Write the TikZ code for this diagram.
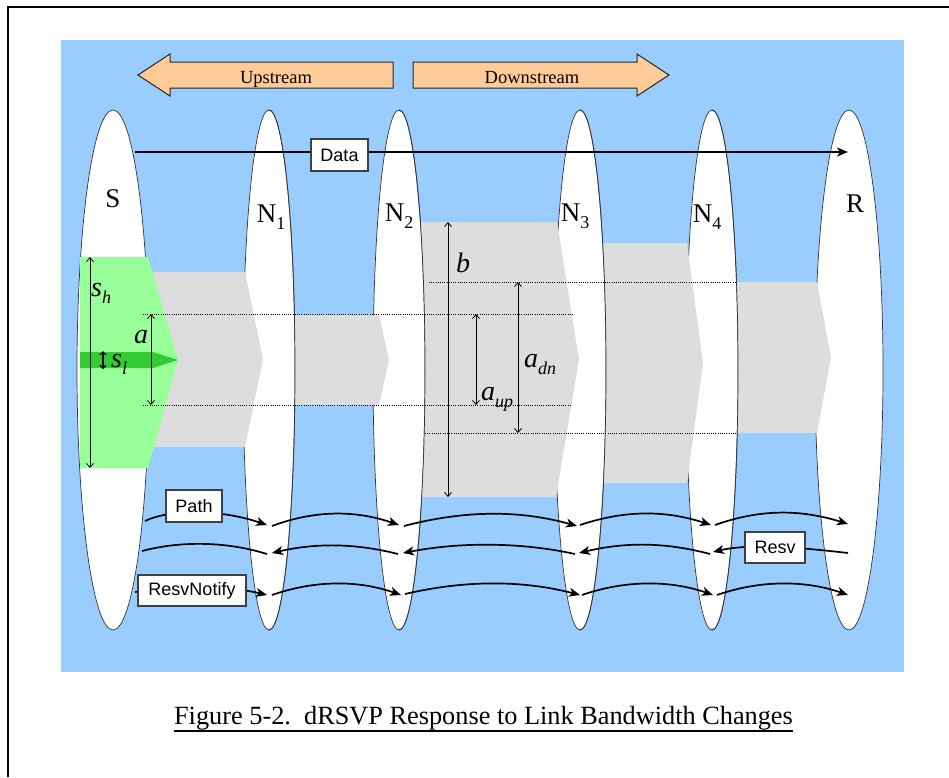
\documentclass[tikz,border=0pt]{standalone}
\usepackage{fontspec}
\setmainfont{Liberation Serif}
\setsansfont{Liberation Sans}
\usetikzlibrary{arrows.meta}
\definecolor{bgblue}{HTML}{99CCFF}
\definecolor{peach}{HTML}{FFCC99}
\definecolor{bwgray}{HTML}{DDDDDD}
\definecolor{lgreen}{HTML}{99FF99}
\definecolor{dgreen}{HTML}{33CC33}
\newcommand{\symlab}[2]{\textit{#1}\raisebox{-7pt}{\fontsize{18}{18}\selectfont\textit{#2}}}
\newcommand{\hoplabel}[2]{#1\raisebox{-7pt}{\fontsize{18}{18}\selectfont #2}}
\begin{document}
\begin{tikzpicture}[x=1pt,y=-1pt,
  hop/.style={draw=black!80, line width=0.7pt, fill=white},
  hopline/.style={draw=black!80, line width=0.7pt},
  bwseg/.style={fill=bwgray},
  dotline/.style={line width=0.8pt, dash pattern=on 1pt off 1.2pt},
  dim/.style={line width=0.8pt, {Straight Barb[length=4pt,width=7pt]}-{Straight Barb[length=4pt,width=7pt]}},
  dimsmall/.style={line width=1.2pt, {Straight Barb[length=3pt,width=6pt]}-{Straight Barb[length=3pt,width=6pt]}},
  msg/.style={line width=1.7pt, -{Stealth[length=11pt,width=9pt,inset=3pt]}},
  msgplain/.style={line width=1.7pt},
  msgbox/.style={draw=black!75, line width=1.2pt, fill=white, font=\sffamily\fontsize{18}{18}\selectfont, minimum height=31pt, inner sep=0pt},
  hoplab/.style={font=\fontsize{27}{27}\selectfont, anchor=base, inner sep=0pt},
  symlabel/.style={font=\fontsize{28}{28}\selectfont, anchor=base west, inner sep=0pt},
  dirarrow/.style={fill=peach, draw=black!85, line width=1pt},
  dirtext/.style={font=\fontsize{18.5}{18.5}\selectfont, anchor=base, inner sep=0pt}
]
% canvas
\fill[white] (0,0) rectangle (949,777);
\useasboundingbox (0,0) rectangle (949,777);
\coordinate (fbl) at (8,777);
\coordinate (ftl) at (8,7);
\coordinate (ftr) at (949,7);
\draw[line width=2.2pt] (fbl) -- (ftl) -- (ftr);
\fill[bgblue] (61,40) rectangle (904,672);

% direction arrows
\draw[dirarrow] (138,75) -- (170,54) -- (170,62) -- (393,62) -- (393,88) -- (170,88) -- (170,96) -- cycle;
\draw[dirarrow] (413,62) -- (637,62) -- (637,54) -- (669,75) -- (637,96) -- (637,88) -- (413,88) -- cycle;
\node[dirtext] (up) at (276,83) {Upstream};
\node[dirtext] (dn) at (532,83) {Downstream};

% hops
\draw[hop] (113,370) ellipse [x radius=36pt, y radius=260pt];
\draw[hop] (269,370) ellipse [x radius=26pt, y radius=260pt];
\draw[hop] (399,370) ellipse [x radius=26pt, y radius=260pt];
\draw[hop] (580,370) ellipse [x radius=26pt, y radius=260pt];
\draw[hop] (712,370) ellipse [x radius=26pt, y radius=260pt];
\draw[hop] (849,370) ellipse [x radius=34pt, y radius=260pt];

% bandwidth segments
\begin{scope}[even odd rule]
\clip (0,0) rectangle (949,777) (113,370) ellipse [x radius=36pt, y radius=260pt];
\fill[bwseg] (113,272) -- (245,272) -- (263,359.5) -- (245,447) -- (113,447) -- cycle;
\end{scope}
\begin{scope}[even odd rule]
\clip (0,0) rectangle (949,777) (269,370) ellipse [x radius=26pt, y radius=260pt];
\fill[bwseg] (269,315) -- (379,315) -- (389,360) -- (379,405) -- (269,405) -- cycle;
\end{scope}
\begin{scope}[even odd rule]
\clip (0,0) rectangle (949,777) (399,370) ellipse [x radius=26pt, y radius=260pt];
\fill[bwseg] (399,222) -- (557,222) -- (579,359.5) -- (556,497) -- (399,497) -- cycle;
\end{scope}
\begin{scope}[even odd rule]
\clip (0,0) rectangle (949,777) (580,370) ellipse [x radius=26pt, y radius=260pt];
\fill[bwseg] (580,243) -- (687,243) -- (703,363) -- (687,483) -- (580,483) -- cycle;
\end{scope}
\begin{scope}[even odd rule]
\clip (0,0) rectangle (949,777) (712,370) ellipse [x radius=26pt, y radius=260pt];
\fill[bwseg] (712,282) -- (817,282) -- (831,357.5) -- (817,433) -- (712,433) -- cycle;
\end{scope}
% right outlines of intermediate hops
\begin{scope}\clip (269,0) rectangle (300,777);\draw[hopline] (269,370) ellipse [x radius=26pt, y radius=260pt];\end{scope}
\begin{scope}\clip (399,0) rectangle (430,777);\draw[hopline] (399,370) ellipse [x radius=26pt, y radius=260pt];\end{scope}
\begin{scope}\clip (580,0) rectangle (611,777);\draw[hopline] (580,370) ellipse [x radius=26pt, y radius=260pt];\end{scope}
\begin{scope}\clip (712,0) rectangle (743,777);\draw[hopline] (712,370) ellipse [x radius=26pt, y radius=260pt];\end{scope}

% source rates
\fill[lgreen] (80,257) -- (148,257) -- (178,360) -- (148,468) -- (80,468) -- cycle;
\fill[dgreen] (80,352) -- (153,352) -- (178,360) -- (153,368) -- (80,368) -- cycle;

% dotted reference lines
\coordinate (d1a) at (143,314); \coordinate (d1b) at (573,314);
\coordinate (d2a) at (143,405); \coordinate (d2b) at (570,405);
\coordinate (d3a) at (429,282); \coordinate (d3b) at (737,282);
\coordinate (d4a) at (425,433); \coordinate (d4b) at (737,433);
\draw[dotline] (d1a) -- (d1b);
\draw[dotline] (d2a) -- (d2b);
\draw[dotline] (d3a) -- (d3b);
\draw[dotline] (d4a) -- (d4b);

% dimension arrows
\coordinate (sht) at (90,257); \coordinate (shb) at (90,468);
\coordinate (at) at (151,314); \coordinate (ab) at (151,405);
\coordinate (slt) at (103,351); \coordinate (slb) at (103,369);
\coordinate (bt) at (448,222); \coordinate (bb) at (448,497);
\coordinate (aupt) at (476,314); \coordinate (aupb) at (476,405);
\coordinate (adnt) at (518,282); \coordinate (adnb) at (518,433);
\draw[dim] (sht) -- (shb);
\draw[dim] (at) -- (ab);
\draw[dimsmall] (slt) -- (slb);
\draw[dim] (bt) -- (bb);
\draw[dim] (aupt) -- (aupb);
\draw[dim] (adnt) -- (adnb);

\node[symlabel] (lsh) at (91,296) {\symlab{s}{h}};
\node[symlabel] (la) at (134,343) {\textit{a}};
\node[symlabel] (lsl) at (111,367) {\symlab{s}{l}};
\node[symlabel] (lb) at (456,272) {\textit{b}};
\node[symlabel] (ladn) at (524,367) {\symlab{a}{dn}};
\node[symlabel] (laup) at (481,400) {\symlab{a}{up}};

% hop labels
\node[hoplab] (nS) at (113,207) {S};
\node[hoplab] (nN1) at (271,222) {\hoplabel{N}{1}};
\node[hoplab] (nN2) at (399,221) {\hoplabel{N}{2}};
\node[hoplab] (nN3) at (575,221) {\hoplabel{N}{3}};
\node[hoplab] (nN4) at (707,222) {\hoplabel{N}{4}};
\node[hoplab] (nR) at (855,212) {R};

% data flow
\coordinate (dS) at (135,152);
\coordinate (dR) at (848,152);
\draw[line width=2pt, -{Stealth[length=11pt,width=9pt,inset=3pt]}] (dS) -- (dR);
\node[msgbox, minimum width=57pt, minimum height=32pt] (data) at (339.5,155) {Data};

% Path messages
\coordinate (p0) at (145,521); \coordinate (p0e) at (267,525);
\coordinate (p1) at (272,526); \coordinate (p1e) at (399,525);
\coordinate (p2) at (404,526); \coordinate (p2e) at (577,526);
\coordinate (p3) at (580,525); \coordinate (p3e) at (711,525);
\coordinate (p4) at (715,525); \coordinate (p4e) at (848,524);
\draw[msg] (p0) .. controls (170,509) and (220,509) .. (p0e);
\draw[msg] (p1) .. controls (315,510) and (355,510) .. (p1e);
\draw[msg] (p2) .. controls (465,510) and (520,510) .. (p2e);
\draw[msg] (p3) .. controls (625,510) and (665,510) .. (p3e);
\draw[msg] (p4) .. controls (760,509) and (800,509) .. (p4e);
\node[msgbox, minimum width=56pt, minimum height=32pt] (path) at (194,506) {Path};

% Resv messages
\coordinate (r0) at (848,553); \coordinate (r0e) at (713,552);
\coordinate (r1) at (710,554); \coordinate (r1e) at (579,553);
\coordinate (r2) at (575,554); \coordinate (r2e) at (403,553);
\coordinate (r3) at (398,554); \coordinate (r3e) at (272,553);
\coordinate (r4) at (267,554); \coordinate (r4e) at (142,551);
\draw[msg] (r0) .. controls (805,548) and (750,543) .. (r0e);
\draw[msg] (r1) .. controls (665,542) and (625,542) .. (r1e);
\draw[msg] (r2) .. controls (520,542) and (460,542) .. (r2e);
\draw[msg] (r3) .. controls (355,543) and (315,543) .. (r3e);
\draw[msgplain] (r4) .. controls (225,541) and (180,541) .. (r4e);
\node[msgbox, minimum width=60pt] (resv) at (775,547.5) {Resv};

% ResvNotify messages
\coordinate (n0) at (135,592); \coordinate (n0e) at (267,595);
\coordinate (n1) at (272,595); \coordinate (n1e) at (401,595);
\coordinate (n2) at (405,594); \coordinate (n2e) at (580,595);
\coordinate (n3) at (582,595); \coordinate (n3e) at (713,595);
\coordinate (n4) at (717,595); \coordinate (n4e) at (848,595);
\draw[msg] (n0) .. controls (170,585) and (225,585) .. (n0e);
\draw[msg] (n1) .. controls (315,580) and (358,580) .. (n1e);
\draw[msg] (n2) .. controls (465,580) and (522,580) .. (n2e);
\draw[msg] (n3) .. controls (625,580) and (670,580) .. (n3e);
\draw[msg] (n4) .. controls (760,580) and (805,580) .. (n4e);
\node[msgbox, minimum width=108pt] (notify) at (192,590.5) {ResvNotify};

% caption
\node[font=\fontsize{26.3}{26.3}\selectfont, anchor=base, inner sep=0pt] (cap) at (483.5,724) {Figure 5-2.\ \ dRSVP Response to Link Bandwidth Changes};
\draw[line width=1.4pt] ([yshift=-7pt]cap.base west) -- ([yshift=-7pt]cap.base east);
\end{tikzpicture}
\end{document}
